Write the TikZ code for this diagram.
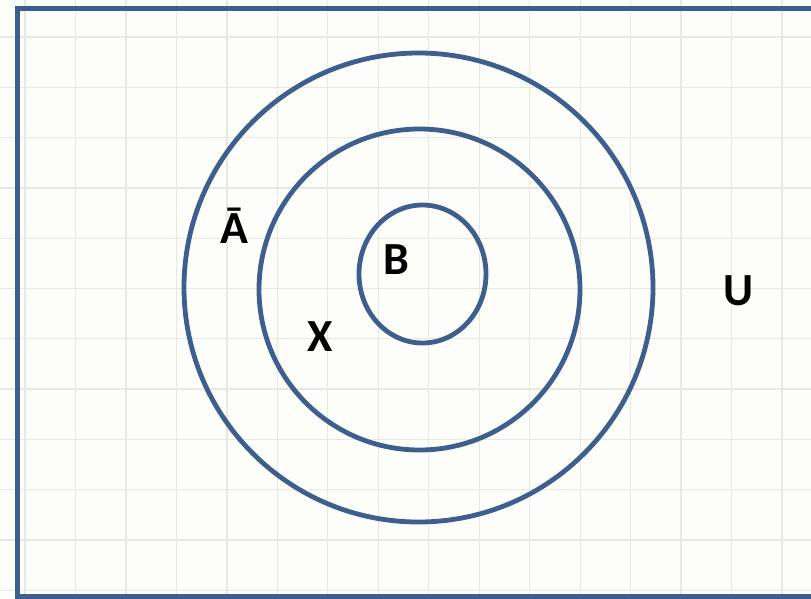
\documentclass[tikz,border=0pt]{standalone}
\usepackage{fontspec}
\setmainfont{Carlito}
\usetikzlibrary{shapes.geometric}
\definecolor{setblue}{HTML}{3D5F8E}
\definecolor{paper}{HTML}{FDFDF9}
\definecolor{gridc}{HTML}{E8E8E2}
\tikzset{
  setline/.style={draw=setblue, line width=4.8pt},
  ring/.style={setline, circle, inner sep=0pt},
  lbl/.style={font=\bfseries\fontsize{46}{52}\selectfont, anchor=base, inner sep=0pt}
}
\begin{document}
\begin{tikzpicture}[x=1pt,y=-1pt]
\useasboundingbox (0,0) rectangle (811,598);
\clip (0,0) rectangle (811,598);
\fill[paper] (0,0) rectangle (811,598);
% grid
\foreach \i in {0,...,16} {
  \draw[gridc, line width=1.3pt] ({25+50.47*\i},0) -- ({25+50.47*\i},598);
}
\foreach \j in {-1,...,11} {
  \draw[gridc, line width=1.3pt] (0,{37+50.3*\j}) -- (811,{37+50.3*\j});
}
% universe frame
\draw[setline] (17.5,8.5) -- (840,8.5) -- (840,596.5) -- (17.5,596.5) -- cycle;
% sets
\node[ring, minimum size=469pt] (outer) at (418.5,287.5) {};
\node[ring, minimum size=321pt] (middle) at (419.5,289.5) {};
\node[setline, ellipse, inner sep=0pt, minimum width=127pt, minimum height=138pt] (inner) at (422.5,274) {};
% labels
\node[lbl] (abar) at (234,243) {Ā};
\node[lbl] (b) at (396,274) {B};
\node[lbl] (x) at (320,351) {X};
\node[lbl] (u) at (739,305) {U};
\end{tikzpicture}
\end{document}
